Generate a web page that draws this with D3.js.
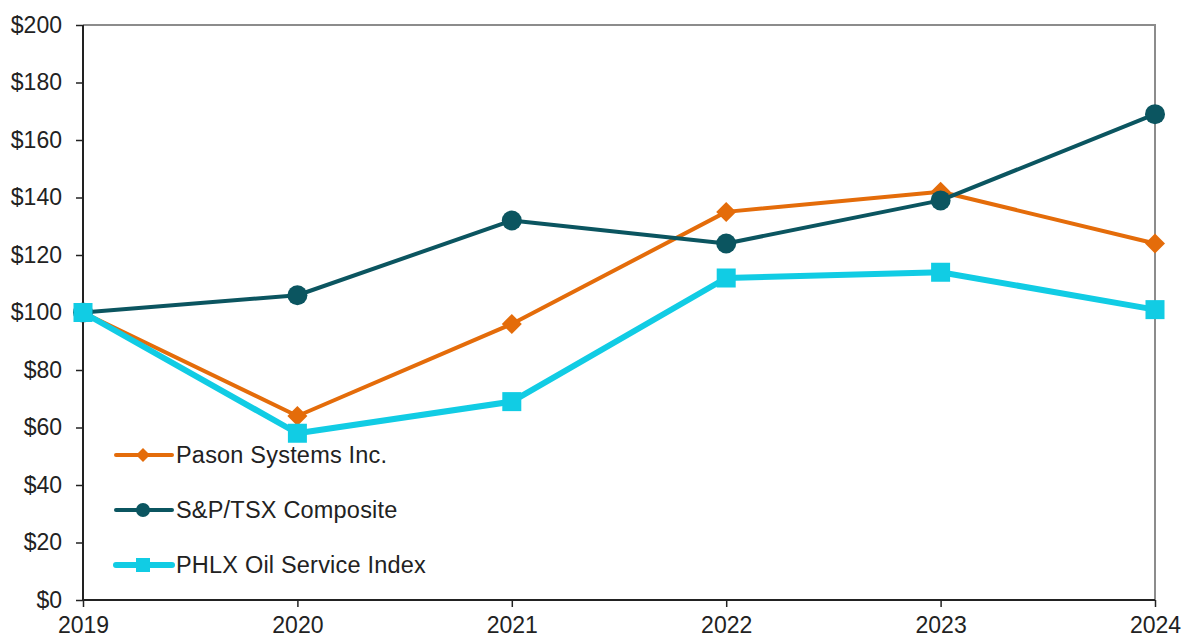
<!DOCTYPE html>
<html>
<head>
<meta charset="utf-8">
<script src="https://cdn.jsdelivr.net/npm/d3@7"></script>
<style>
  body { margin: 0; background: #fff; }
  text { font-family: "Liberation Sans", Arial, sans-serif; fill: #222; }
</style>
</head>
<body>
<div id="chart"></div>
<script>
// data
var years = ["2019", "2020", "2021", "2022", "2023", "2024"];
var pason = [100, 64, 96, 135, 142, 124];
var sptsx = [100, 106, 132, 124, 139, 169];
var phlx = [100, 58, 69, 112, 114, 101];
var yTicks = [0, 20, 40, 60, 80, 100, 120, 140, 160, 180, 200];

var series = [
  {name: "Pason Systems Inc.", values: pason, color: "#E46C0A", width: 4, marker: "diamond"},
  {name: "S&P/TSX Composite", values: sptsx, color: "#0B5560", width: 4, marker: "circle"},
  {name: "PHLX Oil Service Index", values: phlx, color: "#11CCE4", width: 6, marker: "square"}
];

var margin = {top: 25, right: 27, bottom: 37, left: 83},
    width = 1182 - margin.left - margin.right,
    height = 637 - margin.top - margin.bottom;

var svg = d3.select("#chart")
  .append("svg")
    .attr("width", 1182)
    .attr("height", 637)
  .append("g")
    .attr("transform", "translate(" + margin.left + "," + margin.top + ")");

var x = d3.scalePoint()
  .domain(years)
  .range([0, width]);

var y = d3.scaleLinear()
  .domain([0, 200])
  .range([height, 0]);

// grey frame top/right
svg.append("path")
  .attr("d", "M0,0H" + width + "V" + height)
  .attr("fill", "none")
  .attr("stroke", "#8c8c8c")
  .attr("stroke-width", 2);

// Y axis
var yAxis = svg.append("g")
  .call(d3.axisLeft(y).tickValues(yTicks).tickSize(7).tickPadding(14)
    .tickFormat(function (d) { return "$" + d; }));
yAxis.selectAll("text").style("font-size", "23px");
yAxis.select(".domain").attr("stroke", "#222").attr("stroke-width", 2).attr("d", "M0,0V" + height);
yAxis.selectAll(".tick line").attr("stroke", "#222").attr("stroke-width", 1.5);

// X axis
var xAxis = svg.append("g")
  .attr("transform", "translate(0," + height + ")")
  .call(d3.axisBottom(x).tickSize(7).tickPadding(10));
xAxis.selectAll("text").style("font-size", "23px");
xAxis.select(".domain").attr("stroke", "#222").attr("stroke-width", 2).attr("d", "M0,0H" + width);
xAxis.selectAll(".tick line").attr("stroke", "#222").attr("stroke-width", 1.5);

function drawMarker(g, type, cx, cy, size, color) {
  if (type === "circle") {
    g.append("circle").attr("cx", cx).attr("cy", cy).attr("r", size).attr("fill", color);
  } else if (type === "diamond") {
    g.append("path")
      .attr("d", "M" + cx + "," + (cy - size) + "L" + (cx + size) + "," + cy +
                 "L" + cx + "," + (cy + size) + "L" + (cx - size) + "," + cy + "Z")
      .attr("fill", color);
  } else {
    g.append("rect").attr("x", cx - size).attr("y", cy - size)
      .attr("width", size * 2).attr("height", size * 2).attr("fill", color);
  }
}

var line = d3.line()
  .x(function (d, i) { return x(years[i]); })
  .y(function (d) { return y(d); });

var markerSize = {circle: 10, diamond: 10, square: 9.5};

series.forEach(function (s) {
  var g = svg.append("g");
  g.append("path")
    .datum(s.values)
    .attr("d", line)
    .attr("fill", "none")
    .attr("stroke", s.color)
    .attr("stroke-width", s.width)
    .attr("stroke-linejoin", "round");
  s.values.forEach(function (v, i) {
    drawMarker(g, s.marker, x(years[i]), y(v), markerSize[s.marker], s.color);
  });
});

// legend
var legSize = {circle: 7, diamond: 7, square: 7};
var legend = svg.append("g").attr("transform", "translate(33,430)");
series.forEach(function (s, i) {
  var row = legend.append("g").attr("transform", "translate(0," + (i * 55) + ")");
  row.append("line")
    .attr("x1", 0).attr("x2", 56)
    .attr("stroke", s.color)
    .attr("stroke-width", s.width)
    .attr("stroke-linecap", "round");
  drawMarker(row, s.marker, 27, 0, legSize[s.marker], s.color);
  row.append("text")
    .attr("x", 60)
    .attr("y", 8)
    .style("font-size", "23.5px")
    .style("letter-spacing", "0.2px")
    .text(s.name);
});
</script>
</body>
</html>
